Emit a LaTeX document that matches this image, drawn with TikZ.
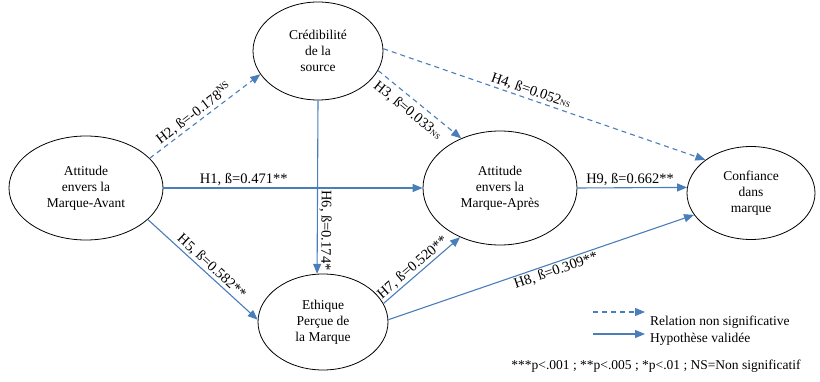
\documentclass[tikz,border=0pt]{standalone}
\usepackage{fontspec}
\setmainfont{Liberation Serif}
\usetikzlibrary{shapes.geometric,arrows.meta}

\definecolor{pathblue}{RGB}{74,126,187}
\newcommand{\nslow}{{\fontsize{8}{8}\selectfont NS}}

\begin{document}
\begin{tikzpicture}[x=1pt,y=-1pt,
    construct/.style={ellipse,draw,line width=0.8pt,align=center,inner sep=0pt,font=\fontsize{13.5}{16}\selectfont},
    validated/.style={pathblue,line width=1.1pt,-{Triangle[length=10pt,width=8pt]}},
    nonsig/.style={validated,dash pattern=on 5pt off 4pt},
    coef/.style={sloped,text=black,inner sep=1.5pt,font=\fontsize{14.5}{16}\selectfont}]
    \useasboundingbox (0,0) rectangle (820,382);

    \node[construct,minimum width=154pt,minimum height=104pt] (avant) at (86,188) {Attitude\\envers la\\Marque-Avant};
    \node[construct,minimum width=130pt,minimum height=98pt] (cred) at (318,51) {Crédibilité\\de la\\source};
    \node[construct,minimum width=154pt,minimum height=114pt] (apres) at (500,188) {Attitude\\envers la\\Marque-Après};
    \node[construct,minimum width=128pt,minimum height=93pt] (conf) at (751,193) {Confiance\\dans\\marque};
    \node[construct,minimum width=130pt,minimum height=96pt] (ethique) at (323,322) {Ethique\\Perçue de\\la Marque};

    \path[nonsig] (avant.25) edge node[coef,above,pos=.45] {H2, ß=-0.178\textsuperscript{NS}} (cred.202)
                  (cred.-18) edge node[coef,below=4pt,pos=.45] {H3, ß=0.033\nslow} (apres.128)
                  (cred.2) edge node[coef,above,pos=.45] {H4, ß=0.052\nslow} (conf.144);
    \path[validated] (avant.east) edge node[coef,above,pos=.31] {H1, ß=0.471**} (apres.west)
                     (cred.south) edge node[coef,above,pos=.75,allow upside down] {H6, ß=0.174*} (ethique.97)
                     (avant.-27) edge node[coef,above,pos=.53] {H5, ß=0.582**} (ethique.178)
                     (ethique.17) edge node[coef,above,pos=.45] {H7, ß=0.520**} (apres.231)
                     (ethique.2) edge node[coef,below,pos=.54] {H8, ß=0.309**} (conf.201)
                     (apres.east) edge node[coef,above,pos=.48] {H9, ß=0.662**} (conf.175);

    \coordinate (nsA) at (593,312);
    \coordinate (nsB) at (645,312);
    \coordinate (hvA) at (593,334);
    \coordinate (hvB) at (645,334);
    \draw[nonsig] (nsA) -- (nsB);
    \draw[validated] (hvA) -- (hvB);
    \node[anchor=west,inner sep=0pt,font=\fontsize{13.5}{16}\selectfont] (nslabel) at (650,322) {Relation non significative};
    \node[anchor=west,inner sep=0pt,font=\fontsize{13.5}{16}\selectfont] (hvlabel) at (650,339) {Hypothèse validée};
    \node[inner sep=0pt,font=\fontsize{13.5}{16}\selectfont] (pnote) at (656,366) {***p<.001 ; **p<.005 ; *p<.01 ; NS=Non significatif};
\end{tikzpicture}
\end{document}
